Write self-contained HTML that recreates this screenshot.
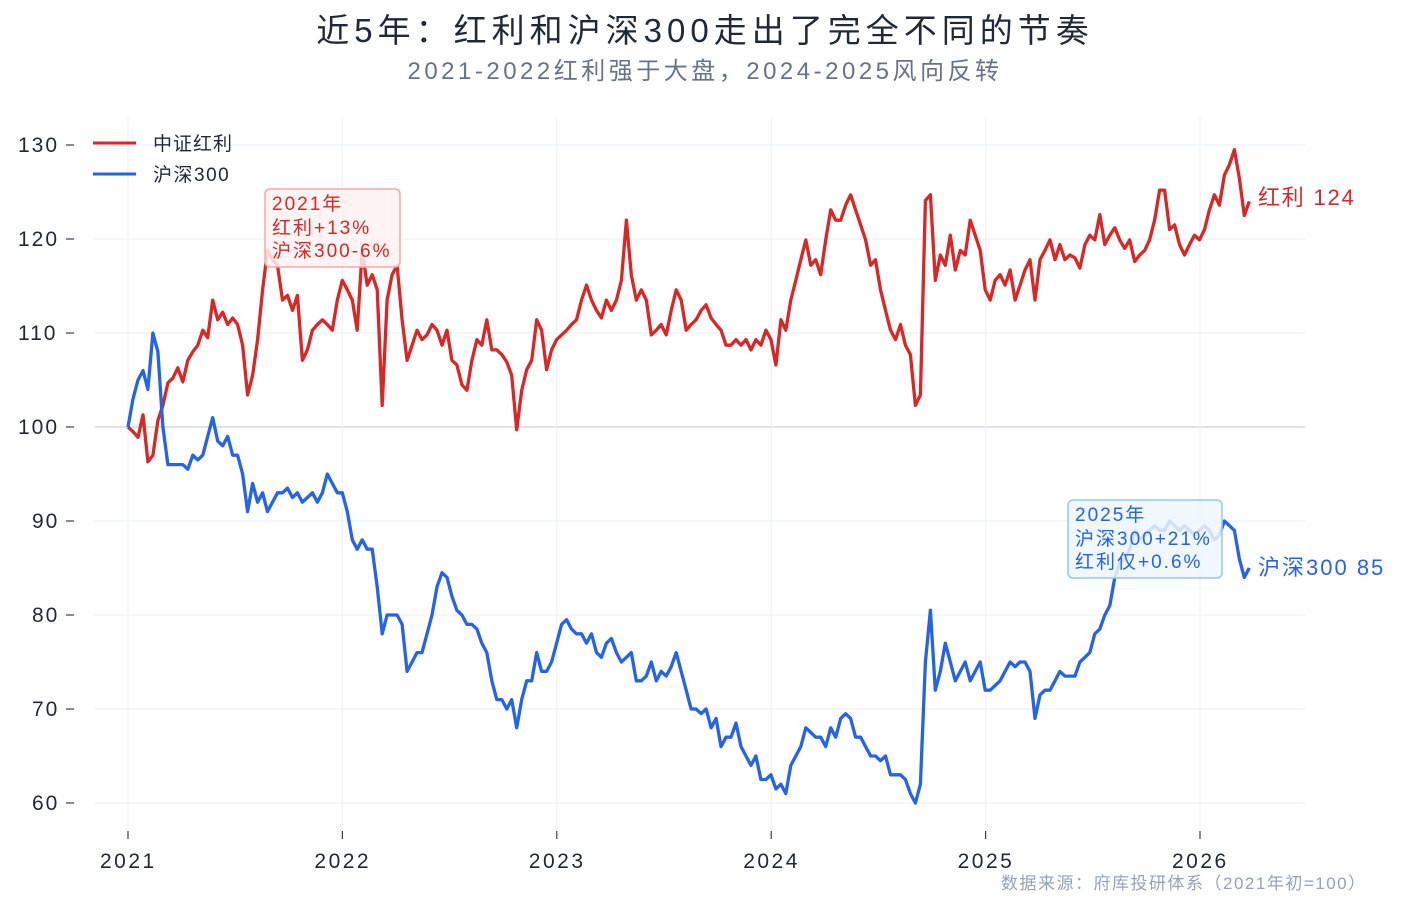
<!DOCTYPE html>
<html><head><meta charset="utf-8">
<style>
html,body{margin:0;padding:0;background:#fff;}
body{width:1401px;height:909px;overflow:hidden;font-family:"Liberation Sans","Noto Sans CJK SC",sans-serif;}
svg text{font-family:"Liberation Sans","Noto Sans CJK SC",sans-serif;}
</style></head>
<body>
<svg id="chart" width="1401" height="909" xmlns="http://www.w3.org/2000/svg">
<text x="705" y="42" text-anchor="middle" font-size="33" letter-spacing="5" fill="#1f2937">近5年：红利和沪深300走出了完全不同的节奏</text>
<text x="705" y="79" text-anchor="middle" font-size="24" letter-spacing="3.5" fill="#64748b">2021-2022红利强于大盘，2024-2025风向反转</text>
<g id="grid"></g>
<g id="series"></g>
<g>
<line x1="93" y1="143" x2="136" y2="143" stroke="#dc2626" stroke-width="3"/>
<text x="153" y="150" font-size="19" letter-spacing="1" fill="#1f2937">中证红利</text>
<line x1="93" y1="174" x2="136" y2="174" stroke="#2563eb" stroke-width="3"/>
<text x="153" y="181" font-size="19" letter-spacing="1.5" fill="#1f2937">沪深300</text>
</g>
<g>
<rect x="265" y="189" width="135" height="78" rx="5" fill="#fef2f2" fill-opacity="0.85" stroke="#fca5a5" stroke-width="1.5"/>
<text x="272" y="210" font-size="19" letter-spacing="2" fill="#dc2626">2021年</text>
<text x="272" y="234" font-size="19" letter-spacing="2" fill="#dc2626">红利+13%</text>
<text x="272" y="257" font-size="19" letter-spacing="2" fill="#dc2626">沪深300-6%</text>
</g>
<g>
<rect x="1068" y="500" width="154" height="78" rx="5" fill="#eff6ff" fill-opacity="0.85" stroke="#93c5fd" stroke-width="1.5"/>
<text x="1075" y="521" font-size="19" letter-spacing="2" fill="#2563eb">2025年</text>
<text x="1075" y="545" font-size="19" letter-spacing="2" fill="#2563eb">沪深300+21%</text>
<text x="1075" y="568" font-size="19" letter-spacing="2" fill="#2563eb">红利仅+0.6%</text>
</g>
<text x="1258" y="205" font-size="22" letter-spacing="1.8" fill="#dc2626">红利 124</text>
<text x="1258" y="575" font-size="22" letter-spacing="2" fill="#2563eb">沪深300 85</text>
<text x="1001" y="889" font-size="17" letter-spacing="1.5" fill="#94a3b8">数据来源：府库投研体系（2021年初=100）</text>
</svg>
<script>
const yTicks=[60,70,80,90,100,110,120,130];
const xTicks=[2021,2022,2023,2024,2025,2026];
const startYear=2021, endYear=2026.23;
const dividend=[100,99.5,98.9,101.3,96.3,97.0,100.7,102.3,104.7,
105.2,106.3,104.8,107.1,108.0,108.7,110.3,109.5,113.5,111.4,112.2,110.9,111.6,110.9,108.7,103.4,105.5,109.3,114.6,118.8,117.8,117.2,113.5,114.0,112.4,114.0,107.1,108.2,110.3,110.9,111.4,110.9,110.3,113.5,115.6,114.6,113.5,110.3,118.8,115.1,116.2,114.6,102.3,113.5,116.2,117.2,111.4,107.1,108.7,110.3,109.3,109.8,110.9,110.3,108.7,110.3,107.1,106.6,104.5,103.9,107.1,109.3,108.7,111.4,108.2,108.2,107.7,106.9,105.5,99.7,103.9,106.1,107.1,111.4,110.3,106.1,108.2,109.3,109.8,110.3,110.9,111.4,113.5,115.1,113.5,112.4,111.6,113.5,112.4,113.5,115.6,122.0,116.2,113.5,114.6,113.5,109.8,110.3,110.9,109.8,112.4,114.6,113.5,110.3,110.9,111.4,112.4,113.0,111.6,110.9,110.3,108.7,108.7,109.3,108.7,109.3,108.2,109.3,108.7,110.3,109.3,106.6,111.4,110.3,113.5,115.6,117.8,119.9,117.2,117.8,116.2,119.9,123.1,122.0,122.0,123.6,124.7,123.1,121.5,119.9,117.2,117.8,114.6,112.4,110.3,109.3,110.9,108.7,107.7,102.3,103.4,124.1,124.7,115.6,118.3,117.2,120.4,116.7,118.8,118.3,122.0,120.4,118.8,114.6,113.5,115.6,116.2,115.1,116.7,113.5,115.1,116.7,117.8,113.5,117.8,118.8,119.9,117.8,119.4,117.8,118.3,118.0,116.9,119.4,120.4,119.9,122.6,119.4,120.4,121.2,119.9,119.0,119.9,117.6,118.3,118.8,119.9,122.0,125.2,125.2,121.0,121.5,119.4,118.3,119.4,120.4,119.9,121.0,123.1,124.7,123.6,126.8,127.9,129.5,126.5,122.5,124.0];
const csi300=[100,103,105,106,104,110,108,100,96,96,96,96,95.5,97,96.5,97,
99,101,98.5,98,99,97,97,95,91,94,92,93,91,92,93,93,93.5,92.5,93,92,92.5,93,92,93,95,94,93,93,91,88,87,88,87,87,83,78,80,80,80,79,74,75,76,76,78,80,83,84.5,84,82,80.5,80,79,79,78.5,77,76,73,71,71,70,71,68,71,73,73,76,74,74,75,77,79,79.5,78.5,78,78,77,78,76,75.5,77,77.5,76,75,75.5,76,73,73,73.5,75,73,74,73.5,74.5,76,74,72,70,70,69.5,70,68,69,66,67,67,68.5,66,65,64,65,62.5,62.5,63,61.5,62,61,64,65,66,68,67.5,67,67,66,68,67,69,69.5,69,67,67,66,65,65,64.5,65,63,63,63,62.5,61,60,62,75,80.5,72,74,77,75,73,74,75,73,74,75,72,72,72.5,73,74,75,74.5,75,75,74,69,71.5,72,72,73,74,73.5,73.5,73.5,75,75.5,76,78,78.5,80,81,84,85.5,86,87,89,88,88.5,89,89.5,89,89,90,89.5,89,89.5,89,88.5,89,89.5,89,88,88.5,90,89.5,89,86,84,85];

const NS='http://www.w3.org/2000/svg';
const X0=128, PX_PER_YEAR=214.4, Y100=427, PX_PER_UNIT=9.4;
function xScale(t){return X0+(t-2021)*PX_PER_YEAR;}
function yScale(v){return Y100-(v-100)*PX_PER_UNIT;}
const grid=document.getElementById('grid');
const series=document.getElementById('series');
function mk(tag,attrs,parent){const e=document.createElementNS(NS,tag);for(const k in attrs)e.setAttribute(k,attrs[k]);parent.appendChild(e);return e;}

yTicks.forEach(v=>{
  const y=yScale(v);
  const l=mk('line',{x1:95,x2:1305,y1:y,y2:y,stroke:v===100?'#d5dbe3':'#eef2f6','stroke-width':v===100?1.6:1.2},grid);
  
  
  const tk=mk('line',{x1:66,x2:74,y1:y,y2:y,stroke:'#334155','stroke-width':1.2},grid);
  
  
  const t=mk('text',{x:18,y:y+7,'font-size':21,'letter-spacing':2,fill:'#1f2937'},grid);
  t.textContent=v;
  if(v<100) t.setAttribute('x',32);
  
  
});
xTicks.forEach(yr=>{
  const x=xScale(yr);
  const l=mk('line',{x1:x,x2:x,y1:117,y2:830,stroke:'#eef2f6','stroke-width':1.2},grid);
  
  
  const tk=mk('line',{x1:x,x2:x,y1:831,y2:839,stroke:'#334155','stroke-width':1.2},grid);
  
  
  const t=mk('text',{x:x-28,y:868,'font-size':21,'letter-spacing':2.5,fill:'#1f2937'},grid);
  t.textContent=yr;
  
  
});
function drawLine(vals,color,name){
  const n=vals.length;
  const d=vals.map((v,i)=>{const t=startYear+i/(n-1)*(endYear-startYear);return (i?'L':'M')+xScale(t).toFixed(1)+','+yScale(v).toFixed(1);}).join('');
  const p=mk('path',{d:d,fill:'none',stroke:color,'stroke-width':3.3,'stroke-linejoin':'round'},series);
  
  
}
drawLine(dividend,'#dc2626','dividend-line');
drawLine(csi300,'#2563eb','csi300-line');
</script>
</body></html>
